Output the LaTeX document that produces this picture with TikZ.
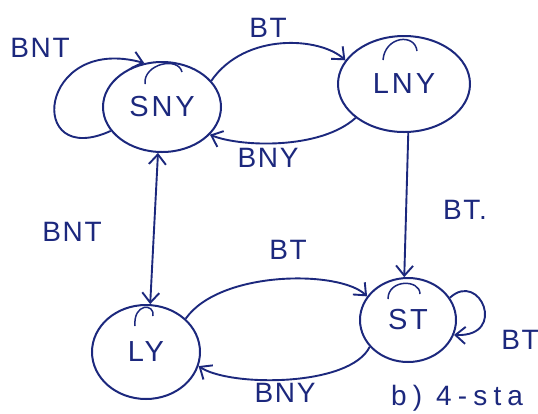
\documentclass[tikz,border=0pt]{standalone}
\usepackage{fontspec}
\setmainfont{Liberation Sans}
\usetikzlibrary{shapes.geometric,arrows.meta}
\definecolor{ink}{RGB}{28,40,125}
\begin{document}
\begin{tikzpicture}[x=1pt,y=-1pt,
  every node/.style={text=ink,font=\fontsize{28}{32}\selectfont\addfontfeature{LetterSpace=6}},
  state/.style={draw=ink,ellipse,line width=2pt,inner sep=0pt,
    font=\fontsize{29}{32}\selectfont\addfontfeature{LetterSpace=10}},
  edge/.style={draw=ink,line width=1.9pt,-{Straight Barb[length=10pt,width=17pt]}},
  mark2/.style={draw=ink,line width=1.5pt},
  lbl/.style={inner sep=1pt}]
\useasboundingbox (0,0) rectangle (538,413);
\node[state,minimum width=118pt,minimum height=90pt] (sny) at (162,107) {SNY};
\node[state,minimum width=132pt,minimum height=96pt] (lny) at (404,84) {LNY};
\node[state,minimum width=108pt,minimum height=94pt] (ly) at (146,352) {LY};
\node[state,minimum width=96pt,minimum height=84pt] (st) at (408,320) {ST};
% small strokes inside states
\draw[mark2] (145,84) .. controls (143,64) and (178,56) .. (182,72);
\draw[mark2] (383,60) .. controls (385,36) and (415,33) .. (417,51);
\draw[mark2] (135,326) .. controls (133,303) and (155,303) .. (153,316);
\draw[mark2] (388,299) .. controls (388,279) and (420,279) .. (420,294);
% edges
\draw[edge] (sny.205) .. controls (25,170) and (38,34) .. (sny.112);
\node[lbl] (l1) at (40,48) {BNT};
\draw[edge] (sny.28) .. controls (245,32) and (320,37) .. (lny.158);
\node[lbl] (l2) at (268,28) {BT};
\draw[edge] (lny.215) .. controls (320,150) and (240,147) .. (sny.-30);
\node[lbl] (l3) at (268,158) {BNY};
\draw[edge,{Straight Barb[length=10pt,width=17pt]}-{Straight Barb[length=10pt,width=17pt]}] (sny.265) -- (ly.85);
\node[lbl] (l4) at (72,232) {BNT};
\draw[edge] (lny.-85) -- (st.95);
\node[lbl] (l5) at (465,210) {BT.};
\draw[edge] (ly.40) .. controls (220,270) and (340,270) .. (st.150);
\node[lbl] (l6) at (288,250) {BT};
\draw[edge] (st.215) .. controls (350,387) and (230,387) .. (ly.-15);
\node[lbl] (l7) at (285,393) {BNY};
\draw[edge] (st.28) .. controls (480,270) and (508,337) .. (st.-18);
\node[lbl] (l8) at (520,340) {BT};
\node[lbl,anchor=west,font=\fontsize{28}{32}\selectfont\addfontfeature{LetterSpace=22}] (cap) at (390,398) {b) 4-sta};
\end{tikzpicture}
\end{document}
